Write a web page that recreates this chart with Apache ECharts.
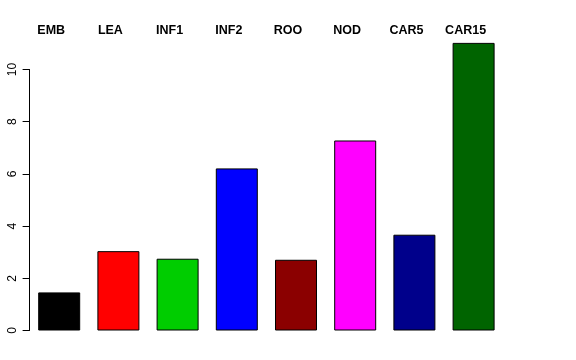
<!DOCTYPE html>
<html>
<head>
<meta charset="utf-8">
<script src="https://cdn.jsdelivr.net/npm/echarts@6/dist/echarts.min.js"></script>
<style>html,body{margin:0;padding:0;background:#fff}#c{width:576px;height:360px}</style>
</head>
<body>
<div id="c"></div>
<script>
const categories = ["EMB", "LEA", "INF1", "INF2", "ROO", "NOD", "CAR5", "CAR15"];
const values = [1.46, 3.04, 2.75, 6.21, 2.71, 7.28, 3.67, 11.02];
const colors = ["#000000", "#FF0000", "#00CD00", "#0000FF", "#8B0000", "#FF00FF", "#00008B", "#006400"];
const yTicks = [0, 2, 4, 6, 8, 10];

const chart = echarts.init(document.getElementById('c'), null, {renderer: 'canvas'});
chart.setOption({
  animation: false,
  backgroundColor: '#ffffff',
  grid: {left: 29.6, right: 72.8, top: 69.5, bottom: 29.5},
  xAxis: {
    type: 'category',
    data: categories,
    position: 'top',
    axisLine: {show: false},
    axisTick: {show: false},
    axisLabel: {
      margin: 32,
      fontFamily: 'Liberation Sans, Arial, sans-serif',
      fontWeight: 'bold',
      fontSize: 12.5,
      color: '#000',
      padding: [0, 16, 0, 0]
    }
  },
  yAxis: {
    type: 'value',
    min: yTicks[0],
    max: yTicks[yTicks.length - 1],
    interval: 2,
    splitLine: {show: false},
    axisLine: {show: true, lineStyle: {color: '#000', width: 1}},
    axisTick: {show: true, length: 7, lineStyle: {color: '#000'}},
    axisLabel: {
      rotate: 90,
      margin: 11,
      fontFamily: 'Liberation Sans, Arial, sans-serif',
      fontSize: 12,
      color: '#000'
    }
  },
  series: [{
    type: 'bar',
    clip: false,
    barWidth: 42,
    data: values.map((v, i) => ({value: v, itemStyle: {color: colors[i]}})),
    itemStyle: {borderColor: '#000', borderWidth: 1}
  }]
});
</script>
</body>
</html>
